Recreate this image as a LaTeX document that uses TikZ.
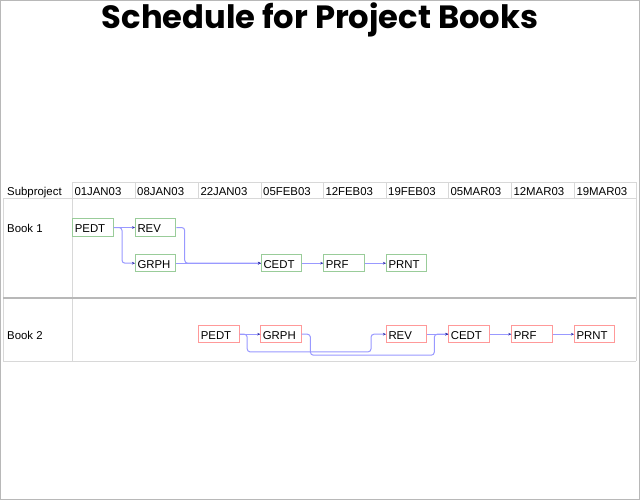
\documentclass[tikz,border=0pt]{standalone}
\usepackage{fontspec}
\setmainfont{Liberation Sans}
\newfontfamily\titlefont{Poppins}
\usetikzlibrary{arrows.meta}
\definecolor{gridc}{HTML}{D8D8D8}
\definecolor{sepc}{HTML}{B8B8B8}
\definecolor{linkc}{HTML}{9999FF}
\definecolor{tipc}{HTML}{3333AA}
\definecolor{grn}{HTML}{99CC99}
\definecolor{red1}{HTML}{FF9999}
\tikzset{
  grid/.style={draw=gridc, line width=1pt},
  task/.style={anchor=north west, draw=#1, fill=white, line width=1pt,
    minimum width=40.4pt, minimum height=17.4pt, text width=36.4pt,
    text height=10.6pt, text depth=0pt,
    inner xsep=2pt, inner ysep=0pt, align=left,
    font=\fontsize{11.4}{12}\selectfont},
  conn/.style={draw=linkc, line width=1pt, rounded corners=3pt,
    -{Stealth[length=3pt,width=2.6pt,color=tipc]}},
  lbl/.style={anchor=base west, inner sep=0pt, font=\fontsize{11.4}{12}\selectfont}
}
\begin{document}
\begin{tikzpicture}[x=1pt,y=-1pt]
\useasboundingbox (0,0) rectangle (640,500);
\fill[white] (0,0) rectangle (640,500);
\draw[sepc, line width=1pt] (0.5,0.5) rectangle (639.5,499.5);
\node[anchor=base, font=\titlefont\bfseries\fontsize{32.2}{36}\selectfont] (title) at (320,29) {Schedule for Project Books};
% table grid
\draw[grid] (72.3,182.3) -- (636,182.3);
\draw[grid] (3,198.5) -- (636,198.5);
\draw[grid] (3,198.5) -- (3,361);
\draw[grid] (636,182.3) -- (636,361);
\draw[grid] (3,361) -- (636,361);
\draw[grid] (72.3,182.3) -- (72.3,361);
\foreach \x in {135,198.3,261,323.3,386,448.3,511.3,574.3}
  \draw[grid] (\x,182.3) -- (\x,198.5);
\draw[sepc, line width=2pt] (3,298.3) -- (636,298.3);
% header text
\node[lbl] (hsub) at (7,195.6) {Subproject};
\foreach \x/\d [count=\i] in {72.3/01JAN03,135/08JAN03,198.3/22JAN03,261/05FEB03,323.3/12FEB03,386/19FEB03,448.3/05MAR03,511.3/12MAR03,574.3/19MAR03}
  \node[lbl] (h\i) at (\x+2,195.6) {\d};
\node[lbl] (b1) at (7,232.3) {Book 1};
\node[lbl] (b2) at (7,339.3) {Book 2};
% Book 1 tasks
\node[task=grn] (p1) at (72.3,218.3) {PEDT};
\node[task=grn] (r1) at (135,218.3) {REV};
\node[task=grn] (g1) at (135,254) {GRPH};
\node[task=grn] (c1) at (261,254) {CEDT};
\node[task=grn] (f1) at (323.3,254) {PRF};
\node[task=grn] (n1) at (386,254) {PRNT};
% Book 2 tasks
\node[task=red1] (p2) at (198.3,325) {PEDT};
\node[task=red1] (g2) at (260.3,325) {GRPH};
\node[task=red1] (r2) at (386,325) {REV};
\node[task=red1] (c2) at (448.3,325) {CEDT};
\node[task=red1] (f2) at (511.3,325) {PRF};
\node[task=red1] (n2) at (574,325) {PRNT};
% Book 1 links
\draw[conn] (p1.east) -- (r1.west);
\draw[conn] (p1.east) -- ([xshift=8.3pt]p1.east) |- (g1.west);
\draw[conn] (r1.east) -- ([xshift=8.3pt]r1.east) |- (c1.west);
\draw[conn] (g1.east) -- (c1.west);
\draw[conn] (c1.east) -- (f1.west);
\draw[conn] (f1.east) -- (n1.west);
% Book 2 links
\draw[conn] (p2.east) -- (g2.west);
\draw[conn] (p2.east) -- ([xshift=7.5pt]p2.east) |- ([xshift=-15pt,yshift=-17.7pt]r2.west) |- (r2.west);
\draw[conn] (g2.east) -- ([xshift=8.7pt]g2.east) |- ([xshift=-14pt,yshift=-21pt]c2.west) |- (c2.west);
\draw[conn] (r2.east) -- (c2.west);
\draw[conn] (c2.east) -- (f2.west);
\draw[conn] (f2.east) -- (n2.west);
\end{tikzpicture}
\end{document}
